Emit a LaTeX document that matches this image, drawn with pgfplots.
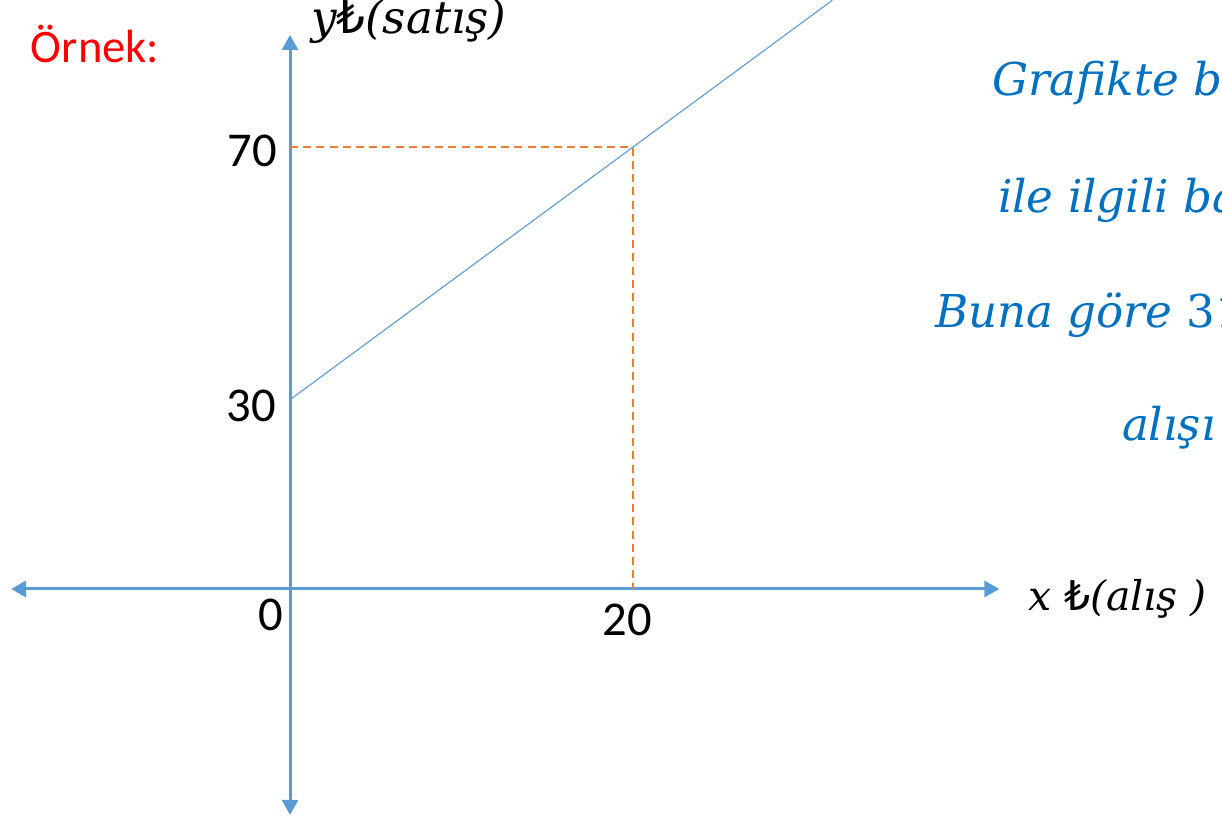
\documentclass[border=0pt]{standalone}
\usepackage{fontspec}
\setmainfont{Carlito}
\newfontfamily\mi{DejaVu Serif}
\newfontfamily\lira{DejaVu Sans}
\usepackage{pgfplots}
\pgfplotsset{compat=1.18}
\usetikzlibrary{arrows.meta}
\definecolor{axblue}{HTML}{5B9BD5}
\definecolor{dashor}{HTML}{ED7D31}
\definecolor{txblue}{HTML}{0070C0}
\newcommand{\TL}{{\lira\upshape ₺}}
\begin{document}
\begin{tikzpicture}
\useasboundingbox (0pt,0pt) rectangle (611pt,-409.5pt);
\clip (0pt,0pt) rectangle (611pt,-409.5pt);
\begin{axis}[at={(0pt,0pt)}, anchor=north west,
  scale only axis, width=611pt, height=409.5pt,
  xmin=-16.924, xmax=54.39, ymin=-36.45, ymax=93.34,
  axis lines=none, clip=false]
\addplot[axblue, line width=1.5pt, {Triangle[length=7.5pt,width=8pt]}-{Triangle[length=7.5pt,width=8pt]}] coordinates {(-16.28,0) (41.4,0)};
\addplot[axblue, line width=1.5pt, {Triangle[length=7.5pt,width=8pt]}-{Triangle[length=7.5pt,width=8pt]}] coordinates {(0,-35.8) (0,87.8)};
\addplot[dashor, line width=0.9pt, dash pattern=on 4pt off 2.6pt] coordinates {(0,70) (20,70) (20,0)};
\addplot[axblue, line width=0.55pt] coordinates {(0,30) (20,70) (31.65,93.3)};
\end{axis}
\begin{scope}[x=0.5pt,y=-0.5pt, every node/.style={inner sep=0pt, outer sep=0pt}]
\node[anchor=base west, text=red, font=\fontsize{23.3pt}{27pt}\selectfont] at (31,62) {Örnek:};
\node[anchor=base east, font=\fontsize{24.3pt}{28pt}\selectfont] at (277,166) {70};
\node[anchor=base east, font=\fontsize{24.3pt}{28pt}\selectfont] at (276,421) {30};
\node[anchor=base east, font=\fontsize{24.3pt}{28pt}\selectfont] at (283,630) {0};
\node[anchor=base, font=\fontsize{24.3pt}{28pt}\selectfont] at (627.5,635) {20};
\node[anchor=base west, font=\fontsize{22.6pt}{26pt}\selectfont\mi\itshape] at (311,33) {y\TL(satış)};
\node[anchor=base west, font=\fontsize{20.5pt}{24pt}\selectfont\mi\itshape] at (1028,610) {x \TL(alış )};
\node[anchor=base west, text=txblue, font=\fontsize{22.6pt}{26pt}\selectfont\mi\itshape] at (992,95) {Grafikte bi};
\node[anchor=base west, text=txblue, font=\fontsize{22.6pt}{26pt}\selectfont\mi\itshape] at (998,212) {ile ilgili ba};
\node[anchor=base west, text=txblue, font=\fontsize{22.6pt}{26pt}\selectfont\mi\itshape] at (935,327) {Buna göre {\upshape 31}};
\node[anchor=base west, text=txblue, font=\fontsize{22.6pt}{26pt}\selectfont\mi\itshape] at (1122,440) {alışı};
\end{scope}
\end{tikzpicture}
\end{document}
